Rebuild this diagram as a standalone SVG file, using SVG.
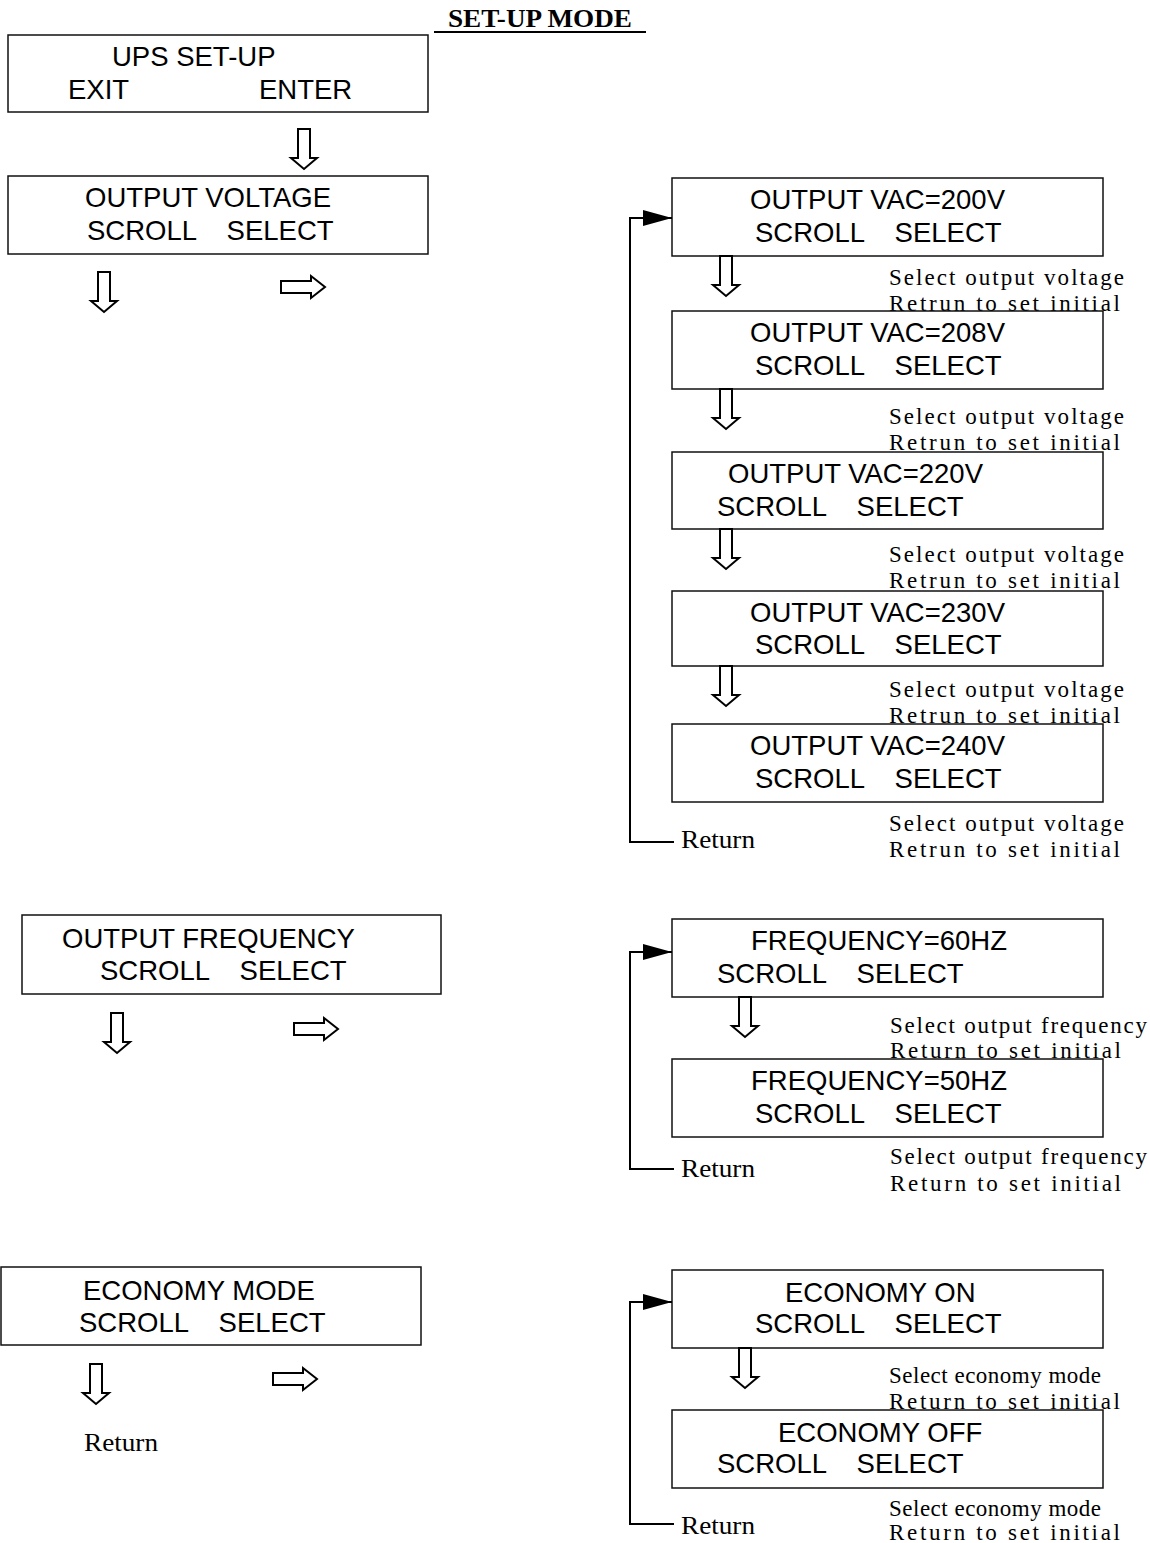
<svg xmlns="http://www.w3.org/2000/svg" width="1150" height="1543" viewBox="0 0 1150 1543">
<style>
.box{fill:none;stroke:#111;stroke-width:1.5}
.t{font-family:"Liberation Sans",Arial,sans-serif;font-size:27.5px;fill:#000;white-space:pre}
.d{font-family:"Liberation Serif","Times New Roman",serif;font-size:23px;fill:#000}
.r{font-family:"Liberation Serif","Times New Roman",serif;font-size:26px;fill:#000}
.ttl{font-family:"Liberation Serif","Times New Roman",serif;font-size:26px;font-weight:bold;fill:#000}
.ha{fill:#fff;stroke:#000;stroke-width:2;stroke-linejoin:miter}
.fb{fill:none;stroke:#000;stroke-width:2}
</style>
<defs>
<path id="dn" d="M-6,0 H6 V29 H13 L0,40 L-13,29 H-6 Z"/>
<path id="rt" d="M0,-6 H30 V-11 L44,0 L30,11 V6 H0 Z"/>
<marker id="tri" markerUnits="userSpaceOnUse" markerWidth="30" markerHeight="18" refX="29" refY="8" orient="auto">
<path d="M0,0 L29,8 L0,16 Z" fill="#000"/>
</marker>
</defs>
<rect width="1150" height="1543" fill="#fff"/>

<g id="title">
<text class="ttl" x="448" y="27" textLength="184" lengthAdjust="spacingAndGlyphs">SET-UP MODE</text>
<line x1="434" y1="32" x2="646" y2="32" stroke="#000" stroke-width="2"/>
</g>

<g id="ups-setup">
<rect class="box" x="8" y="35" width="420" height="77"/>
<text class="t" x="112" y="66">UPS SET-UP</text>
<text class="t" x="68" y="99">EXIT</text>
<text class="t" x="259" y="99">ENTER</text>
</g>

<g id="output-voltage">
<rect class="box" x="8" y="176" width="420" height="78"/>
<text class="t" x="85" y="207">OUTPUT VOLTAGE</text>
<text class="t" x="87" y="240" xml:space="preserve">SCROLL    SELECT</text>
</g>

<g id="output-frequency">
<rect class="box" x="22" y="915" width="419" height="79"/>
<text class="t" x="62" y="948">OUTPUT FREQUENCY</text>
<text class="t" x="100" y="980" xml:space="preserve">SCROLL    SELECT</text>
</g>

<g id="economy-mode">
<rect class="box" x="1" y="1267" width="420" height="78"/>
<text class="t" x="83" y="1300">ECONOMY MODE</text>
<text class="t" x="79" y="1332" xml:space="preserve">SCROLL    SELECT</text>
<text class="r" x="84" y="1451" textLength="74" lengthAdjust="spacingAndGlyphs">Return</text>
</g>

<g id="vac-200">
<rect class="box" x="672" y="178" width="431" height="78"/>
<text class="t" x="750" y="209">OUTPUT VAC=200V</text>
<text class="t" x="755" y="242" xml:space="preserve">SCROLL    SELECT</text>
<text class="d" x="889" y="285" textLength="235">Select output voltage</text>
<text class="d" x="889" y="311" textLength="231">Retrun to set initial</text>
</g>

<g id="vac-208">
<rect class="box" x="672" y="311" width="431" height="78"/>
<text class="t" x="750" y="342">OUTPUT VAC=208V</text>
<text class="t" x="755" y="375" xml:space="preserve">SCROLL    SELECT</text>
<text class="d" x="889" y="424" textLength="235">Select output voltage</text>
<text class="d" x="889" y="450" textLength="231">Retrun to set initial</text>
</g>

<g id="vac-220">
<rect class="box" x="672" y="452" width="431" height="77"/>
<text class="t" x="728" y="483">OUTPUT VAC=220V</text>
<text class="t" x="717" y="516" xml:space="preserve">SCROLL    SELECT</text>
<text class="d" x="889" y="562" textLength="235">Select output voltage</text>
<text class="d" x="889" y="588" textLength="231">Retrun to set initial</text>
</g>

<g id="vac-230">
<rect class="box" x="672" y="591" width="431" height="75"/>
<text class="t" x="750" y="622">OUTPUT VAC=230V</text>
<text class="t" x="755" y="654" xml:space="preserve">SCROLL    SELECT</text>
<text class="d" x="889" y="697" textLength="235">Select output voltage</text>
<text class="d" x="889" y="723" textLength="231">Retrun to set initial</text>
</g>

<g id="vac-240">
<rect class="box" x="672" y="724" width="431" height="78"/>
<text class="t" x="750" y="755">OUTPUT VAC=240V</text>
<text class="t" x="755" y="788" xml:space="preserve">SCROLL    SELECT</text>
<text class="d" x="889" y="831" textLength="235">Select output voltage</text>
<text class="d" x="889" y="857" textLength="231">Retrun to set initial</text>
<text class="r" x="681" y="848" textLength="74" lengthAdjust="spacingAndGlyphs">Return</text>
</g>

<g id="freq-60">
<rect class="box" x="672" y="919" width="431" height="78"/>
<text class="t" x="751" y="950">FREQUENCY=60HZ</text>
<text class="t" x="717" y="983" xml:space="preserve">SCROLL    SELECT</text>
<text class="d" x="890" y="1033" textLength="257">Select output frequency</text>
<text class="d" x="890" y="1058" textLength="231">Return to set initial</text>
</g>

<g id="freq-50">
<rect class="box" x="672" y="1059" width="431" height="78"/>
<text class="t" x="751" y="1090">FREQUENCY=50HZ</text>
<text class="t" x="755" y="1123" xml:space="preserve">SCROLL    SELECT</text>
<text class="d" x="890" y="1164" textLength="257">Select output frequency</text>
<text class="d" x="890" y="1191" textLength="231">Return to set initial</text>
<text class="r" x="681" y="1177" textLength="74" lengthAdjust="spacingAndGlyphs">Return</text>
</g>

<g id="economy-on">
<rect class="box" x="672" y="1270" width="431" height="78"/>
<text class="t" x="785" y="1302">ECONOMY ON</text>
<text class="t" x="755" y="1333" xml:space="preserve">SCROLL    SELECT</text>
<text class="d" x="889" y="1383" textLength="212">Select economy mode</text>
<text class="d" x="889" y="1409" textLength="231">Return to set initial</text>
</g>

<g id="economy-off">
<rect class="box" x="672" y="1410" width="431" height="78"/>
<text class="t" x="778" y="1442">ECONOMY OFF</text>
<text class="t" x="717" y="1473" xml:space="preserve">SCROLL    SELECT</text>
<text class="d" x="889" y="1516" textLength="212">Select economy mode</text>
<text class="d" x="889" y="1540" textLength="231">Return to set initial</text>
<text class="r" x="681" y="1534" textLength="74" lengthAdjust="spacingAndGlyphs">Return</text>
</g>

<g id="connectors">
<use href="#dn" class="ha" x="304" y="129"/>
<use href="#dn" class="ha" x="104" y="272"/>
<use href="#rt" class="ha" x="281" y="287"/>
<use href="#dn" class="ha" x="117" y="1013"/>
<use href="#rt" class="ha" x="294" y="1029"/>
<use href="#dn" class="ha" x="96" y="1364"/>
<use href="#rt" class="ha" x="273" y="1379"/>
<use href="#dn" class="ha" x="726" y="256"/>
<use href="#dn" class="ha" x="726" y="389"/>
<use href="#dn" class="ha" x="726" y="529"/>
<use href="#dn" class="ha" x="726" y="666"/>
<use href="#dn" class="ha" x="745" y="997"/>
<use href="#dn" class="ha" x="745" y="1348"/>
<polyline class="fb" points="674,842 630,842 630,218 672,218" marker-end="url(#tri)"/>
<polyline class="fb" points="674,1169 630,1169 630,952 672,952" marker-end="url(#tri)"/>
<polyline class="fb" points="674,1524 630,1524 630,1302 672,1302" marker-end="url(#tri)"/>
</g>
</svg>
